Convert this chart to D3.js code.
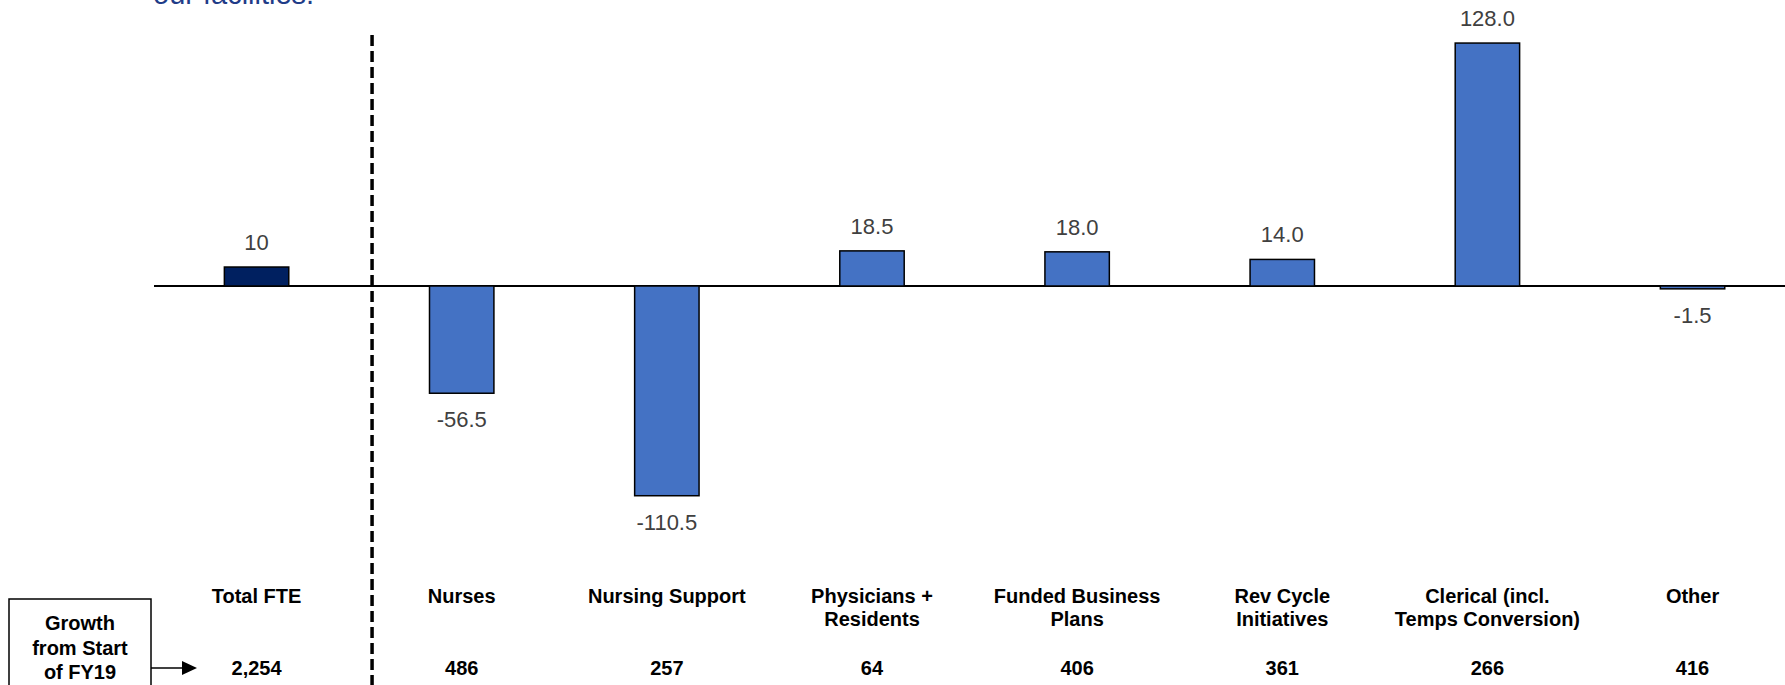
<!DOCTYPE html>
<html>
<head>
<meta charset="utf-8">
<title>fte-growth</title>
<script src="https://cdn.jsdelivr.net/npm/d3@7"></script>
<style>
  body { margin: 0; background: #fff; }
  svg { display: block; font-family: Arial, "Liberation Sans", sans-serif; }
  .val { font-size: 22px; fill: #404040; text-anchor: middle; }
  .cat, .growth, .boxtext { font-size: 20px; font-weight: bold; fill: #000; text-anchor: middle; }
  .bar { stroke: #000; stroke-width: 1.5px; }
</style>
</head>
<body>
<svg width="1785" height="685"></svg>
<script>
// categories, split into display lines
var categories = ["Total FTE", "Nurses", "Nursing Support", "Physicians + Residents",
  "Funded Business Plans", "Rev Cycle Initiatives", "Clerical (incl. Temps Conversion)", "Other"];
var categoryLines = [["Total FTE"], ["Nurses"], ["Nursing Support"], ["Physicians +", "Residents"],
  ["Funded Business", "Plans"], ["Rev Cycle", "Initiatives"], ["Clerical (incl.", "Temps Conversion)"], ["Other"]];
var values = [10, -56.5, -110.5, 18.5, 18.0, 14.0, 128.0, -1.5];
var valueLabels = ["10", "-56.5", "-110.5", "18.5", "18.0", "14.0", "128.0", "-1.5"];
var growth = ["2,254", "486", "257", "64", "406", "361", "266", "416"];

var svg = d3.select("svg"),
    W = +svg.attr("width"),
    H = +svg.attr("height");

var x = d3.scaleBand()
  .domain(categories)
  .range([154, 154 + 8 * 205.14])
  .paddingInner(0.686)
  .paddingOuter(0.343);

var k = 1.898; // px per FTE
var y = d3.scaleLinear()
  .domain([-150, 150])
  .range([286 + 150 * k, 286 - 150 * k]);

// heading text, cut off at the top like the source slide
svg.append("text")
  .attr("x", 153).attr("y", 4)
  .attr("font-size", 29)
  .attr("fill", "#1f3c88")
  .text("our facilities.");

// zero line
svg.append("line")
  .attr("x1", 154).attr("x2", W)
  .attr("y1", y(0)).attr("y2", y(0))
  .attr("stroke", "#000").attr("stroke-width", 2);

// bars
svg.selectAll(".bar")
  .data(values)
  .enter().append("rect")
  .attr("class", "bar")
  .attr("x", function(d, i) { return x(categories[i]); })
  .attr("width", x.bandwidth())
  .attr("y", function(d) { return y(Math.max(0, d)); })
  .attr("height", function(d) { return Math.abs(y(d) - y(0)); })
  .attr("fill", function(d, i) { return i == 0 ? "#002060" : "#4472C4"; });

// value labels
svg.selectAll(".val")
  .data(values)
  .enter().append("text")
  .attr("class", "val")
  .attr("x", function(d, i) { return x(categories[i]) + x.bandwidth() / 2; })
  .attr("y", function(d) { return d >= 0 ? y(d) - 17 : y(d) + 34; })
  .text(function(d, i) { return valueLabels[i]; });

// dashed separator
var sepX = x(categories[1]) - 0.28 * x.step();
svg.append("line")
  .attr("x1", sepX).attr("x2", sepX)
  .attr("y1", 35).attr("y2", H)
  .attr("stroke", "#000").attr("stroke-width", 3.5)
  .attr("stroke-dasharray", "11,5");

// category labels
var cat = svg.selectAll(".cat")
  .data(categoryLines)
  .enter().append("text")
  .attr("class", "cat")
  .attr("y", 603);
cat.selectAll("tspan")
  .data(function(d, i) { return d.map(function(t) { return { t: t, i: i }; }); })
  .enter().append("tspan")
  .attr("x", function(d) { return x(categories[d.i]) + x.bandwidth() / 2; })
  .attr("dy", function(d, j) { return j == 0 ? 0 : 23; })
  .text(function(d) { return d.t; });

// growth row
svg.selectAll(".growth")
  .data(growth)
  .enter().append("text")
  .attr("class", "growth")
  .attr("x", function(d, i) { return x(categories[i]) + x.bandwidth() / 2; })
  .attr("y", 675)
  .text(function(d) { return d; });

// box with arrow
svg.append("rect")
  .attr("x", 9).attr("y", 599)
  .attr("width", 142).attr("height", 100)
  .attr("fill", "#fff").attr("stroke", "#000").attr("stroke-width", 1.5);
["Growth", "from Start", "of FY19"].forEach(function(t, i) {
  svg.append("text").attr("class", "boxtext")
    .attr("x", 80).attr("y", 630 + i * 24.5)
    .text(t);
});
svg.append("line")
  .attr("x1", 151).attr("x2", 184)
  .attr("y1", 668).attr("y2", 668)
  .attr("stroke", "#000").attr("stroke-width", 1.5);
svg.append("path")
  .attr("d", "M182,661 L197,668 L182,675 Z")
  .attr("fill", "#000");
</script>
</body>
</html>
